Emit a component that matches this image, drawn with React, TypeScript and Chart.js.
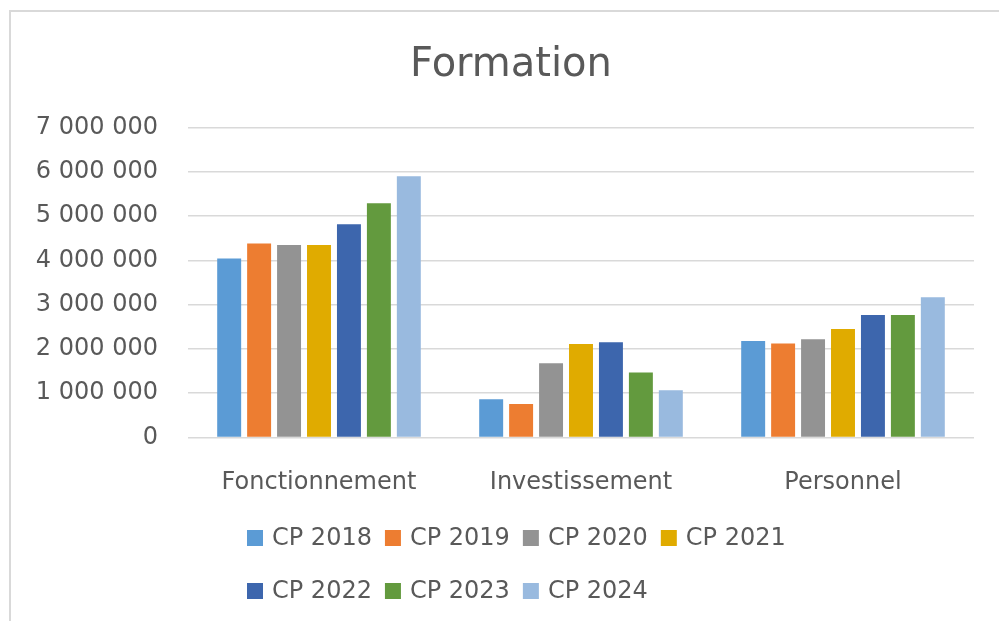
import React, { useEffect, useRef } from 'react';
import { Chart, registerables } from 'chart.js';

Chart.register(...registerables);

const FONT = "'DejaVu Sans', 'Open Sans', sans-serif";
const TEXT_COLOR = '#595959';
const GRID_COLOR = '#d9d9d9';

const titleText = 'Formation';
const categories = ['Fonctionnement', 'Investissement', 'Personnel'];
const seriesLabels = ['CP 2018', 'CP 2019', 'CP 2020', 'CP 2021', 'CP 2022', 'CP 2023', 'CP 2024'];
const seriesColors = ['#5b9bd5', '#ed7d31', '#939393', '#e0ab00', '#3d66ad', '#639a3e', '#99badf'];

const cp2018 = [4040000, 862000, 2180000];
const cp2019 = [4383000, 756000, 2120000];
const cp2020 = [4344000, 1675000, 2220000];
const cp2021 = [4344000, 2110000, 2450000];
const cp2022 = [4818000, 2150000, 2765000];
const cp2023 = [5292000, 1470000, 2765000];
const cp2024 = [5902000, 1065000, 3165000];
const seriesValues = [cp2018, cp2019, cp2020, cp2021, cp2022, cp2023, cp2024];

const yMin = 0;
const yMax = 7000000;
const yStep = 1000000;

const formatThousands = (v: number) =>
  Math.round(v).toString().replace(/\B(?=(\d{3})+(?!\d))/g, ' ');

const titlePlugin = {
  id: 'excelTitle',
  afterDraw(chart: any) {
    const ctx = chart.ctx;
    ctx.save();
    ctx.font = `40px ${FONT}`;
    ctx.textBaseline = 'middle';
    ctx.textAlign = 'center';
    ctx.fillStyle = TEXT_COLOR;
    ctx.fillText(titleText, 511, 66);
    ctx.restore();
  },
};

const legendPlugin = {
  id: 'excelLegend',
  afterDraw(chart: any) {
    const ctx = chart.ctx;
    ctx.save();
    ctx.font = `24px ${FONT}`;
    ctx.textBaseline = 'middle';
    ctx.textAlign = 'left';
    const startX = 247;
    const firstRowY = 538;
    const rowGap = 53;
    const maxRight = 800;
    let x = startX;
    let row = 0;
    chart.data.datasets.forEach((ds: any) => {
      const label = ds.label as string;
      const w = ctx.measureText(label).width;
      if (x + 25 + w > maxRight && x > startX) {
        row++;
        x = startX;
      }
      const y = firstRowY + row * rowGap;
      ctx.fillStyle = ds.backgroundColor;
      ctx.fillRect(x, y - 8, 16, 16);
      ctx.fillStyle = TEXT_COLOR;
      ctx.fillText(label, x + 25, y + 1);
      x += 25 + w + 13;
    });
    ctx.restore();
  },
};

export default function App() {
  const canvasRef = useRef<HTMLCanvasElement | null>(null);

  useEffect(() => {
    if (!canvasRef.current) return;
    const chart = new Chart(canvasRef.current, {
      type: 'bar',
      data: {
        labels: categories,
        datasets: seriesLabels.map((label, i) => ({
          label,
          data: seriesValues[i],
          backgroundColor: seriesColors[i],
          borderWidth: 0,
          categoryPercentage: 0.8,
          barPercentage: 0.8,
        })),
      },
      options: {
        responsive: false,
        animation: false,
        devicePixelRatio: 1,
        layout: { padding: { left: 35, right: 25, top: 127.5, bottom: 0 } },
        plugins: {
          legend: { display: false },
          tooltip: { enabled: false },
          title: { display: false },
        },
        scales: {
          x: {
            offset: true,
            grid: { display: false },
            border: { display: false },
            ticks: {
              color: TEXT_COLOR,
              font: { family: FONT, size: 24 },
              padding: 23,
              maxRotation: 0,
            },
            afterFit: (scale: any) => {
              scale.height = 183.5;
            },
          },
          y: {
            min: yMin,
            max: yMax,
            border: { display: false },
            grid: { color: GRID_COLOR, lineWidth: 1.5, drawTicks: false },
            ticks: {
              stepSize: yStep,
              color: TEXT_COLOR,
              font: { family: FONT, size: 24 },
              padding: 30,
              callback: (v: any) => formatThousands(Number(v)),
            },
            afterFit: (scale: any) => {
              scale.width = 153;
            },
          },
        },
      },
      plugins: [titlePlugin, legendPlugin],
    });
    return () => chart.destroy();
  }, []);

  return (
    <div
      style={{
        position: 'fixed',
        left: 0,
        top: 0,
        width: 999,
        height: 621,
        overflow: 'hidden',
        background: '#ffffff',
      }}
    >
      <div
        style={{
          position: 'absolute',
          left: 9,
          top: 10,
          width: 1200,
          height: 1000,
          borderTop: '2px solid #d9d9d9',
          borderLeft: '2px solid #d9d9d9',
        }}
      />
      <canvas
        ref={canvasRef}
        width={999}
        height={621}
        style={{ position: 'absolute', left: 0, top: 0, width: 999, height: 621 }}
      />
    </div>
  );
}
